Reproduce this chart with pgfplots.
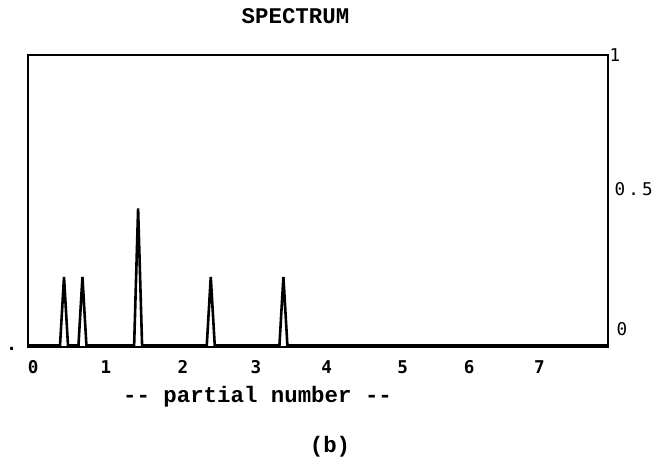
\documentclass[border=0pt]{standalone}
\usepackage{fontspec}
\usepackage{pgfplots}
\pgfplotsset{compat=1.18}
\newfontfamily\cour{Liberation Mono}
\newfontfamily\djm{DejaVu Sans Mono}
\begin{document}
\begin{tikzpicture}
\useasboundingbox (0,0) rectangle (329pt,233pt);
\begin{axis}[
  scale only axis,
  width=290.1pt, height=146pt,
  anchor=south west, at={(13.75pt,59.5pt)},
  xmin=-0.080, xmax=7.946,
  ymin=-0.0062, ymax=1.061,
  axis line style={line width=1pt},
  major tick length=0pt,
  xtick={0,1.006,2.071,3.080,4.059,5.110,6.031,7},
  xticklabels={0,1,2,3,4,5,6,7},
  xticklabel style={font=\djm\bfseries\fontsize{8.8}{9}\selectfont, anchor=base, yshift=-13.15pt},
  ytick={0.0596,0.5713,1.061},
  yticklabels={\hspace*{1pt}0,0\hspace{1.6pt}.\hspace{1.6pt}5,\hspace*{-2.5pt}1},
  yticklabel pos=right,
  yticklabel style={font=\djm\fontsize{8.8}{9}\selectfont, anchor=west, inner sep=0pt, xshift=3.2pt},
  /pgf/number format/assume math mode=true,
]
\addplot[black, line width=1.3pt] coordinates {
(-0.08,0) (0.37,0) (0.425,0.25) (0.48,0) (0.625,0) (0.68,0.25) (0.735,0)
(1.395,0) (1.45,0.5) (1.505,0) (2.40,0) (2.455,0.25) (2.51,0)
(3.405,0) (3.46,0.25) (3.515,0) (7.946,0)};
\end{axis}
\node[anchor=base, inner sep=0pt, font=\cour\bfseries\fontsize{11.2}{12}\selectfont] at (147.75pt,221pt) {SPECTRUM};
\node[anchor=base, inner sep=0pt, font=\cour\bfseries\fontsize{11.2}{12}\selectfont] at (128.75pt,32pt) {-{}- partial number -{}-};
\node[anchor=base, inner sep=0pt, font=\cour\bfseries\fontsize{11.2}{12}\selectfont] at (165pt,7pt) {(b)};
\node[anchor=base, inner sep=0pt, font=\djm\bfseries\fontsize{8.8}{9}\selectfont] at (5.85pt,57.8pt) {.};
\end{tikzpicture}
\end{document}
